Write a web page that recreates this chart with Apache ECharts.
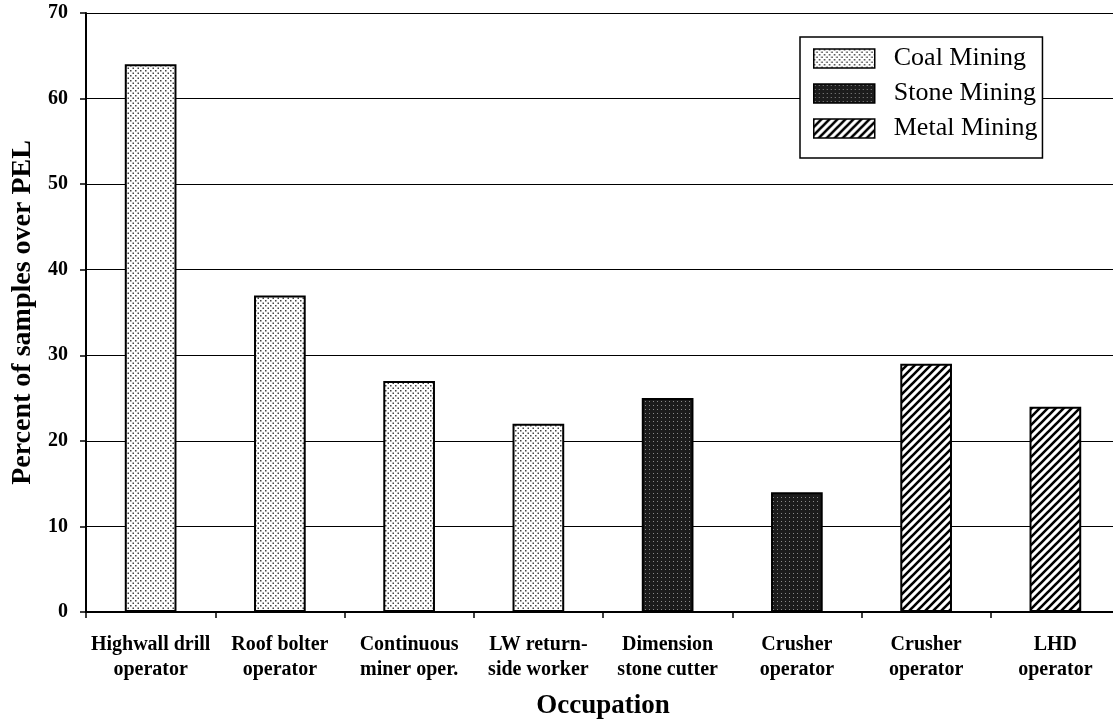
<!DOCTYPE html>
<html><head><meta charset="utf-8">
<script src="https://cdn.jsdelivr.net/npm/echarts@6/dist/echarts.min.js"></script>
<style>html,body{margin:0;padding:0;background:#fff}#c{width:1113px;height:725px}</style>
</head><body><div id="c"></div>
<script>
const categories = ["Highwall drill\noperator","Roof bolter\noperator","Continuous\nminer oper.","LW return-\nside worker","Dimension\nstone cutter","Crusher\noperator","Crusher\noperator","LHD\noperator"];
const coalValues  = [64, 37, 27, 22, null, null, null, null];
const stoneValues = [null, null, null, null, 25, 14, null, null];
const metalValues = [null, null, null, null, null, null, 29, 24];
const seriesNames = ["Coal Mining","Stone Mining","Metal Mining"];
const yTicks = {min:0, max:70, interval:10};

const FONT = '"Liberation Serif","Times New Roman",serif';

function makeTile(w,h,draw){const c=document.createElement('canvas');c.width=w;c.height=h;const g=c.getContext('2d');draw(g,w,h);return c;}
const coalTile = makeTile(5,5,(g,w,h)=>{g.fillStyle='#fff';g.fillRect(0,0,w,h);g.fillStyle='#444';g.fillRect(0,0,1.5,1.5);g.fillRect(2.5,2.5,1.5,1.5);});
const stoneTile = makeTile(4,4,(g,w,h)=>{g.fillStyle='#1c1c1c';g.fillRect(0,0,w,h);g.fillStyle='#8a8a8a';g.fillRect(1,1,1,1);});
const metalTile = makeTile(8,8,(g,w,h)=>{g.fillStyle='#fff';g.fillRect(0,0,w,h);g.strokeStyle='#000';g.lineWidth=2.6;g.lineCap='square';
  [[0,8,8,0],[-4,4,4,-4],[4,12,12,4]].forEach(l=>{g.beginPath();g.moveTo(l[0],l[1]);g.lineTo(l[2],l[3]);g.stroke();});});

const fills = [
  {image: coalTile, repeat:'repeat'},
  {image: stoneTile, repeat:'repeat'},
  {image: metalTile, repeat:'repeat'}
];
const dataSets = [coalValues, stoneValues, metalValues];

const chart = echarts.init(document.getElementById('c'), null, {renderer:'canvas'});
chart.setOption({
  animation:false,
  backgroundColor:'#fff',
  grid:{left:86, top:13, bottom:113, right:-7, containLabel:false, outerBoundsMode:'none'},
  legend:{
    orient:'vertical', left:800, top:37,
    backgroundColor:'#fff', borderColor:'#000', borderWidth:1.5,
    padding:[7,5,15,13], itemGap:6, itemWidth:61, itemHeight:19,
    textStyle:{fontFamily:FONT, fontSize:26, color:'#000', lineHeight:29, padding:[0,0,0,14]},
    data: seriesNames.map((n,i)=>({name:n, icon:'rect', itemStyle:{color:fills[i], borderColor:'#000', borderWidth:1.5}}))
  },
  xAxis:{
    type:'category', data:categories,
    name:'Occupation', nameLocation:'middle', nameGap:81,
    nameTextStyle:{fontFamily:FONT, fontSize:27, fontWeight:'bold', color:'#000'},
    axisLine:{show:true, lineStyle:{color:'#000', width:2}},
    axisTick:{show:true, length:6, lineStyle:{color:'#000', width:1.5}},
    axisLabel:{fontFamily:FONT, fontSize:20, fontWeight:'bold', color:'#000', margin:20, lineHeight:25, interval:0}
  },
  yAxis:{
    type:'value', min:yTicks.min, max:yTicks.max, interval:yTicks.interval,
    name:'Percent of samples over PEL', nameLocation:'middle', nameGap:46, nameRotate:90,
    nameTextStyle:{fontFamily:FONT, fontSize:28, fontWeight:'bold', color:'#000'},
    axisLine:{show:true, lineStyle:{color:'#000', width:2}},
    axisTick:{show:true, length:6, lineStyle:{color:'#000', width:1.5}},
    axisLabel:{fontFamily:FONT, fontSize:20, fontWeight:'bold', color:'#000', margin:18},
    splitLine:{show:true, lineStyle:{color:'#000', width:1.2}}
  },
  series: seriesNames.map((n,i)=>({
    name:n, type:'bar', data:dataSets[i], barWidth:'40%', barGap:'-100%',
    itemStyle:{color:fills[i], borderColor:'#000', borderWidth:2}
  }))
});
</script></body></html>
